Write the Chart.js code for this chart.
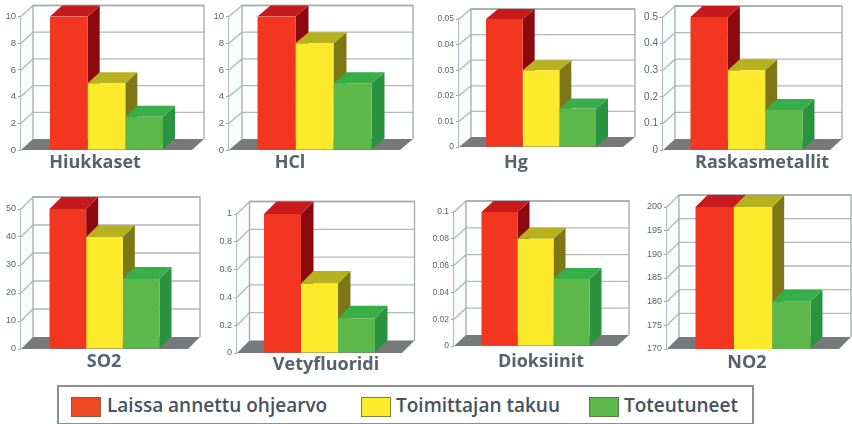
<!DOCTYPE html>
<html lang="fi">
<head>
<meta charset="utf-8">
<title>Päästöt</title>
<script src="https://cdn.jsdelivr.net/npm/chart.js@4/dist/chart.umd.min.js"></script>
<style>
  html, body { margin: 0; padding: 0; background: #fff; }
  #page { position: relative; width: 852px; height: 424px; overflow: hidden; background: #fff; }
  canvas { position: absolute; }
  #legend { position: absolute; left: 57px; top: 385px; width: 693px; height: 36px; border: 2px solid #8b8f93; background: #fff; }
  #legend i { position: absolute; top: 10px; width: 28px; height: 18px; border: 1.5px solid; box-sizing: content-box; }
  #legend span { position: absolute; top: 0; white-space: nowrap;
    font: 600 19px/36px "Open Sans", sans-serif; color: #46525e; }
</style>
</head>
<body>
<div id="page"><div id="legend"></div></div>
<script>
// Emission categories and the three series compared in every panel
const categories = ['Hiukkaset', 'HCl', 'Hg', 'Raskasmetallit', 'SO2', 'Vetyfluoridi', 'Dioksiinit', 'NO2'];
const seriesNames = ['Laissa annettu ohjearvo', 'Toimittajan takuu', 'Toteutuneet'];
const guidelineValues = [10, 10, 0.05, 0.5, 50, 1, 0.1, 200];
const guaranteeValues = [5, 8, 0.03, 0.3, 40, 0.5, 0.08, 200];
const actualValues = [2.5, 5, 0.015, 0.15, 25, 0.25, 0.05, 180];
const axisMin = [0, 0, 0, 0, 0, 0, 0, 170];
const axisMax = [10, 10, 0.05, 0.5, 50, 1, 0.1, 200];
const axisStep = [2, 2, 0.01, 0.1, 10, 0.2, 0.02, 5];

// Panel placement on the page: front plane, depth offset, bar span, caption centre
const panels = [
  { l: 21,  r: 192, top: 16.5, base: 150, dx: 12, dy: -11, bl: 49,  br: 162, cx: 95,  cy: 163, tf: 9.5 },
  { l: 229, r: 400, top: 16.5, base: 150, dx: 13, dy: -11, bl: 257, br: 371, cx: 290, cy: 163, tf: 9.5 },
  { l: 459, r: 623, top: 19,   base: 146.5, dx: 12, dy: -10, bl: 486, br: 596, cx: 516, cy: 163, tf: 8.5 },
  { l: 663, r: 830, top: 17,   base: 150, dx: 12, dy: -11, bl: 689, br: 801, cx: 762, cy: 163, tf: 10 },
  { l: 21,  r: 188, top: 209,  base: 349, dx: 12, dy: -12, bl: 49,  br: 159, cx: 104, cy: 362, tf: 9 },
  { l: 237, r: 402, top: 214,  base: 352.5, dx: 12.5, dy: -12.5, bl: 264, br: 375, cx: 326, cy: 365, tf: 9 },
  { l: 454, r: 617, top: 212,  base: 346, dx: 12, dy: -11, bl: 481, br: 589, cx: 541, cy: 362, tf: 8.5 },
  { l: 667, r: 839, top: 207,  base: 349, dx: 12, dy: -12, bl: 695, br: 810, cx: 747, cy: 363, tf: 9 }
];

const AXIS_W = 21;
const CAPTION_H = 30;
const faceColors = [
  { front: '#f2361f', top: '#c71a1c', side: '#8a0a10' },
  { front: '#fdea2b', top: '#b7b01f', side: '#7d7717' },
  { front: '#5cb84a', top: '#38ae4a', side: '#2a9340' }
];

function polygon(ctx, pts, fill) {
  ctx.beginPath();
  pts.forEach((p, i) => i ? ctx.lineTo(p[0], p[1]) : ctx.moveTo(p[0], p[1]));
  ctx.closePath();
  ctx.fillStyle = fill;
  ctx.fill();
}

// Draws the box behind the bars and the side and top faces of each bar
const roomPlugin = {
  id: 'room',
  beforeDatasetsDraw(chart, args, opts) {
    const { ctx, chartArea: a, scales: { y } } = chart;
    const { dx, dy } = opts;
    const t = a.top, b = a.bottom, l = a.left, r = a.right;
    ctx.save();
    polygon(ctx, [[l, b], [l + dx, b + dy], [l + dx, t + dy], [l, t]], '#f7fbfc');
    polygon(ctx, [[l + dx, t + dy], [r + dx, t + dy], [r + dx, b + dy], [l + dx, b + dy]], '#ffffff');
    ctx.lineWidth = 1.3;
    y.ticks.forEach(tk => {
      if (tk.value === y.min) return;
      const py = y.getPixelForValue(tk.value);
      ctx.strokeStyle = '#b4b8ba';
      ctx.beginPath();
      ctx.moveTo(l, py);
      ctx.lineTo(l + dx, py + dy);
      ctx.lineTo(r + dx, py + dy);
      ctx.stroke();
    });
    ctx.strokeStyle = '#a6aaad';
    ctx.beginPath();
    ctx.moveTo(l + dx, b + dy);
    ctx.lineTo(l + dx, t + dy);
    ctx.lineTo(r + dx, t + dy);
    ctx.lineTo(r + dx, b + dy);
    ctx.stroke();
    polygon(ctx, [[l, b], [r, b], [r + dx, b + dy], [l + dx, b + dy]], '#77797b');

    // Faces run left to right so each bar's top overlaps its neighbour's side
    chart.getSortedVisibleDatasetMetas().forEach((meta, s) => {
      const colors = faceColors[s];
      const el = meta.data[0];
      const x0 = el.x - el.width / 2, x1 = el.x + el.width / 2;
      const foot = Math.min(el.base, b);
      polygon(ctx, [[x1, foot], [x1 + dx, foot + dy], [x1 + dx, el.y + dy], [x1, el.y]], colors.side);
      polygon(ctx, [[x0, el.y], [x1, el.y], [x1 + dx, el.y + dy], [x0 + dx, el.y + dy]], colors.top);
    });
    ctx.restore();
  }
};

categories.forEach((name, i) => {
  const p = panels[i];
  const canvas = document.createElement('canvas');
  const padTop = Math.ceil(-p.dy) + 4;
  const padRight = Math.ceil(p.dx) + 2;
  const cl = p.l - AXIS_W, ct = Math.round(p.top) - padTop;
  const width = Math.round(p.r + padRight - cl);
  const height = Math.round(p.base + CAPTION_H - ct);
  canvas.width = width;
  canvas.height = height;
  canvas.style.left = cl + 'px';
  canvas.style.top = ct + 'px';
  document.getElementById('page').appendChild(canvas);

  const values = [guidelineValues, guaranteeValues, actualValues];
  new Chart(canvas, {
    type: 'bar',
    data: {
      labels: [name],
      datasets: seriesNames.map((label, s) => ({
        label,
        data: [values[s][i]],
        backgroundColor: faceColors[s].front
      }))
    },
    options: {
      responsive: false,
      animation: false,
      layout: { padding: { top: padTop + (p.top - Math.round(p.top)), right: padRight, left: 0, bottom: 0 } },
      plugins: {
        legend: { display: false },
        tooltip: { enabled: false },
        room: { dx: p.dx, dy: p.dy }
      },
      datasets: { bar: { barPercentage: 1, categoryPercentage: (p.br - p.bl) / (p.r - p.l) } },
      scales: {
        x: {
          afterFit(s) { s.height = CAPTION_H; },
          grid: { display: false, drawTicks: false },
          border: { display: false },
          ticks: {
            autoSkip: false, maxRotation: 0, minRotation: 0,
            padding: p.cy - p.base - 11,
            labelOffset: p.cx - (p.l + p.r) / 2,
            color: '#56626d',
            font: { family: '"Open Sans", sans-serif', size: 18, weight: '700' }
          }
        },
        y: {
          min: axisMin[i],
          max: axisMax[i],
          afterFit(s) { s.width = AXIS_W; },
          grid: { drawOnChartArea: false, tickLength: 3, color: '#a0a4a7' },
          border: { color: '#b4b8ba', width: 1.3 },
          ticks: {
            stepSize: axisStep[i],
            padding: 2,
            color: '#59646e',
            font: { family: '"Liberation Sans", sans-serif', size: p.tf },
            callback: v => String(+v.toFixed(3))
          }
        }
      }
    },
    plugins: [roomPlugin]
  });
});

// Shared key below the panels
const legendPlaces = [
  { swatch: 12, text: 48 },
  { swatch: 302, text: 337 },
  { swatch: 530, text: 565 }
];
const legendBox = document.getElementById('legend');
seriesNames.forEach((label, s) => {
  const swatch = document.createElement('i');
  swatch.style.left = legendPlaces[s].swatch + 'px';
  swatch.style.background = s === 0 ? '#ee4a22' : faceColors[s].front;
  swatch.style.borderColor = ['#8a5a48', '#80803a', '#4f7f45'][s];
  legendBox.appendChild(swatch);
  const text = document.createElement('span');
  text.style.left = legendPlaces[s].text + 'px';
  text.textContent = label;
  legendBox.appendChild(text);
});
</script>
</body>
</html>
